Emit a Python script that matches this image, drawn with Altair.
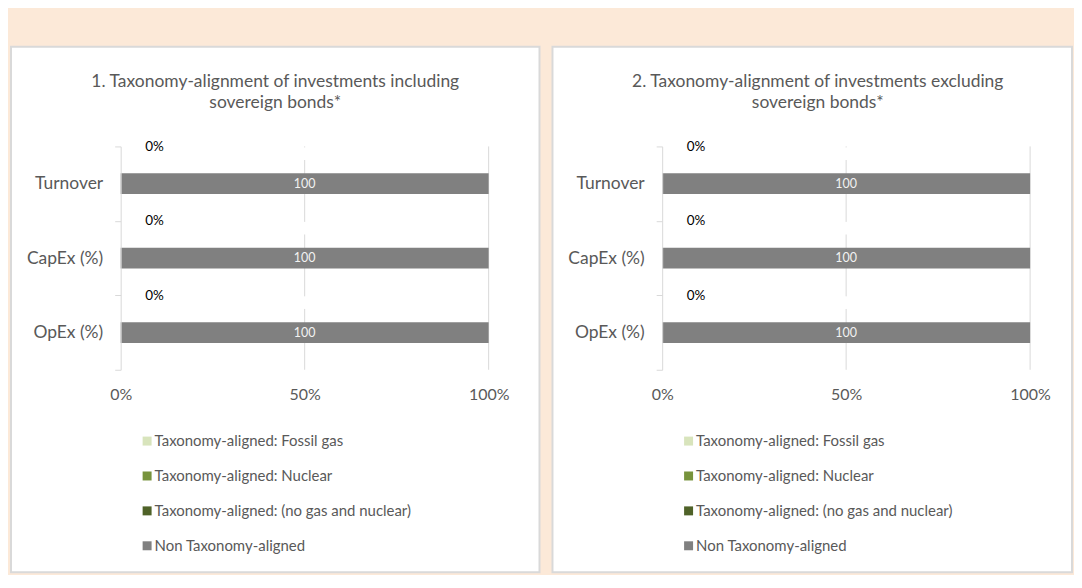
import altair as alt
import pandas as pd

# ---------------- data ----------------
categories = ["Turnover", "CapEx (%)", "OpEx (%)"]
series = [
    "Taxonomy-aligned: Fossil gas",
    "Taxonomy-aligned: Nuclear",
    "Taxonomy-aligned: (no gas and nuclear)",
    "Non Taxonomy-aligned",
]
colors = ["#D8E4BC", "#77933C", "#4F6228", "#808080"]

# values per series for [Turnover, CapEx, OpEx]
panel1_fossil = [0, 0, 0]
panel1_nuclear = [0, 0, 0]
panel1_aligned = [0, 0, 0]
panel1_non = [100, 100, 100]

panel2_fossil = [0, 0, 0]
panel2_nuclear = [0, 0, 0]
panel2_aligned = [0, 0, 0]
panel2_non = [100, 100, 100]

titles = [
    ["1. Taxonomy-alignment of investments including", "sovereign bonds*"],
    ["2. Taxonomy-alignment of investments excluding", "sovereign bonds*"],
]
x_ticks = [0, 50, 100]
grid_values = [50, 100]

FONT = "Lato"
TXT = "#595959"
LINE = "#D9D9D9"


def long_df(fossil, nuclear, aligned, non):
    rows = []
    for ci, cat in enumerate(categories):
        for si, (s, vals) in enumerate(zip(series, [fossil, nuclear, aligned, non])):
            rows.append({"category": cat, "series": s, "value": vals[ci], "idx": si})
    return pd.DataFrame(rows)


def panel(fossil, nuclear, aligned, non, title, rect_x2, title_dx):
    df = long_df(fossil, nuclear, aligned, non)
    xscale = alt.Scale(domain=[0, 100], nice=False)
    xaxis = alt.Axis(
        values=x_ticks, labelExpr="datum.value + '%'", domain=False, ticks=False,
        grid=False, labelPadding=17, labelFontSize=16, labelColor=TXT,
        labelFlush=False, title=None, zindex=1, labelFont=FONT,
    )
    yenc = alt.Y(
        "category:N", sort=categories,
        scale=alt.Scale(paddingInner=0, paddingOuter=0),
        axis=alt.Axis(
            title=None, tickBand="extent", domainColor=LINE, tickColor=LINE,
            tickSize=6, labelPadding=12, labelFontSize=17.5, labelColor=TXT,
            zindex=1, grid=False, labelFont=FONT,
        ),
    )

    def X(field):
        return alt.X(field, scale=xscale, axis=xaxis)

    bg = alt.Chart(pd.DataFrame({"k": [0]})).mark_rect(
        fill="white", stroke=LINE, strokeWidth=2
    ).encode(
        x=alt.value(-110), x2=alt.value(rect_x2), y=alt.value(-100), y2=alt.value(427)
    )

    grid = alt.Chart(pd.DataFrame({"value": grid_values})).mark_rule(
        color=LINE, strokeWidth=1
    ).encode(x=X("value:Q"))

    gaps = alt.Chart(
        pd.DataFrame({"value": [50] * len(categories), "category": categories})
    ).mark_square(color="white", opacity=1, size=160, yOffset=-30).encode(
        x=X("value:Q"), y=yenc
    )

    bars = alt.Chart(df).mark_bar(height={"band": 0.28}).encode(
        x=alt.X("value:Q", stack="zero", scale=xscale, axis=xaxis),
        y=yenc,
        color=alt.Color(
            "series:N",
            scale=alt.Scale(domain=series, range=colors),
            legend=alt.Legend(
                title=None, orient="none", legendX=19, legendY=288,
                direction="vertical", symbolType="square", symbolSize=81,
                symbolStrokeWidth=0, labelFontSize=15, labelColor=TXT,
                labelFont=FONT, rowPadding=19, labelOffset=0, labelLimit=400,
            ),
        ),
        order=alt.Order("idx:Q"),
    )

    text100 = alt.Chart(df).transform_stack(
        stack="value", groupby=["category"], as_=["v0", "v1"],
        sort=[alt.SortField("idx")],
    ).transform_filter(
        alt.datum.series == series[3]
    ).transform_calculate(
        mid="(datum.v0 + datum.v1) / 2"
    ).mark_text(color="#F2F2F2", fontSize=12.5, font=FONT).encode(
        x=X("mid:Q"), y=yenc, text=alt.Text("value:Q")
    )

    aligned_sum = [fossil[i] + nuclear[i] + aligned[i] for i in range(len(categories))]
    zero_df = pd.DataFrame({
        "category": categories,
        "zero": [0] * len(categories),
        "label": [f"{v}%" for v in aligned_sum],
    })
    text0 = alt.Chart(zero_df).mark_text(
        align="center", baseline="middle", dx=34, yOffset=-37,
        fontSize=13.5, color="#000000", font=FONT,
    ).encode(x=X("zero:Q"), y=yenc, text="label:N")

    return alt.layer(bg, grid, gaps, bars, text100, text0).properties(
        width=369, height=224,
        title=alt.TitleParams(
            text=title, fontSize=17.5, font=FONT, color=TXT, fontWeight="normal",
            offset=-66, anchor="middle", dx=title_dx, lineHeight=21,
        ),
    )


p1 = panel(panel1_fossil, panel1_nuclear, panel1_aligned, panel1_non, titles[0], 420, -29.5)
p2 = panel(panel2_fossil, panel2_nuclear, panel2_aligned, panel2_non, titles[1], 411, -28.5)

chart = alt.hconcat(p1, p2, spacing=9).resolve_legend(color="independent").properties(
    padding={"left": 1, "top": 36, "right": 0, "bottom": 0},
    background="#FCE9D8",
).configure_view(strokeWidth=0).configure(font=FONT)

chart.save("out.html", embed_options={"renderer": "svg", "actions": False})
